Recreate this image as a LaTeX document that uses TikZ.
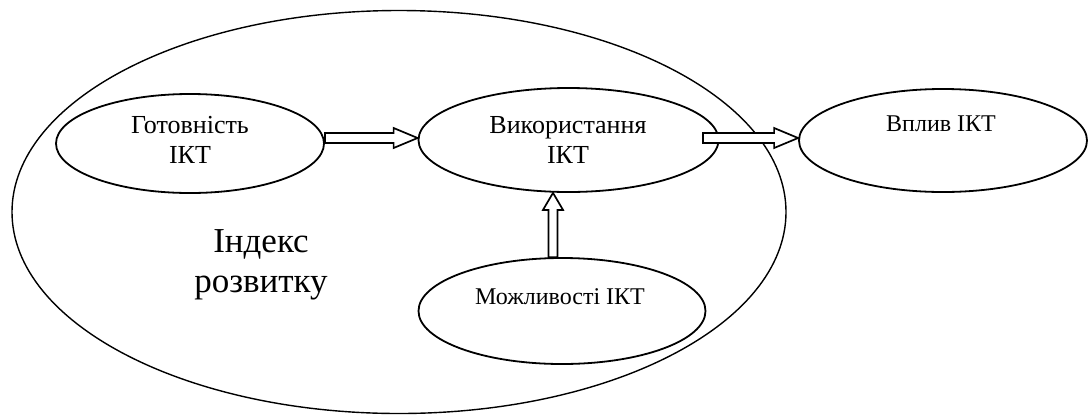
\documentclass[tikz,border=0pt]{standalone}
\usepackage{fontspec}
\setmainfont{Liberation Serif}
\usetikzlibrary{shapes.geometric,calc}
\newcommand{\harr}[2]{\draw[harrow] ($(#1)+(0,-5)$) -- ($(#2)+(-24,-5)$) -- ($(#2)+(-24,-10)$) -- (#2) -- ($(#2)+(-24,10)$) -- ($(#2)+(-24,5)$) -- ($(#1)+(0,5)$) -- cycle;}
\newcommand{\varr}[2]{\draw[harrow] ($(#1)+(-4.5,0)$) -- ($(#2)+(-4.5,17)$) -- ($(#2)+(-10,17)$) -- (#2) -- ($(#2)+(10,17)$) -- ($(#2)+(4.5,17)$) -- ($(#1)+(4.5,0)$) -- cycle;}
\begin{document}
\begin{tikzpicture}[x=1pt,y=-1pt,
  oval/.style={ellipse, draw, line width=1.8pt, inner sep=0pt},
  lbl/.style={align=center, font=\fontsize{26}{30}\selectfont, inner sep=0pt},
  slbl/.style={align=center, font=\fontsize{24}{28}\selectfont, inner sep=0pt},
  biglbl/.style={align=center, font=\fontsize{35}{40}\selectfont, inner sep=0pt},
  harrow/.style={draw, fill=white, line width=1.7pt, line join=miter}]
\useasboundingbox (0,0) rectangle (1089,416);
\node[oval, line width=1.4pt, minimum width=774pt, minimum height=403pt] (big) at (399,212) {};
\node[oval, minimum width=268pt, minimum height=99pt] (g) at (190,143.5) {};
\node[oval, minimum width=300pt, minimum height=104pt] (v) at (568.5,140) {};
\node[oval, minimum width=288pt, minimum height=103pt] (w) at (943,140.5) {};
\node[oval, minimum width=287pt, minimum height=106pt] (m) at (562,311) {};
\node[lbl] (gt) at (190,139.5) {Готовність\\ІКТ};
\node[lbl] (vt) at (568,139.5) {Використання\\ІКТ};
\node[slbl] (wt) at (941,124) {Вплив ІКТ};
\node[slbl] (mt) at (560,297) {Можливості ІКТ};
\node[biglbl] (bt) at (261,265) {Індекс\\розвитку};
\coordinate (a1s) at (g.east |- 0,138);
\coordinate (a1t) at (v.west |- 0,138);
\coordinate (a2s) at (703,138);
\coordinate (a2t) at (w.west |- 0,138);
\coordinate (a3s) at (m.north -| 553,0);
\coordinate (a3t) at (v.south -| 553,0);
\harr{a1s}{a1t}
\harr{a2s}{a2t}
\varr{a3s}{a3t}
\end{tikzpicture}
\end{document}
